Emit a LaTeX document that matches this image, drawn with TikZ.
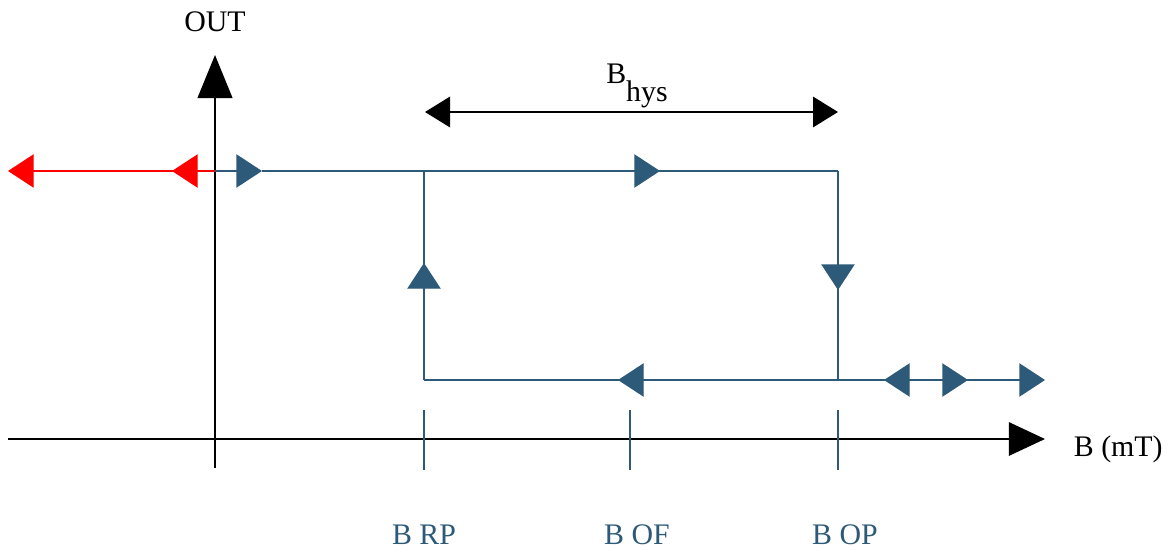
\documentclass[tikz,border=0pt]{standalone}
\usepackage{fontspec}
\setmainfont{Liberation Serif}
\usetikzlibrary{arrows.meta, positioning, calc}
\definecolor{flowblue}{RGB}{44,90,120}

\begin{document}
\begin{tikzpicture}[x=0.72pt, y=-0.72pt, >=stealth]
    % Styles
    \tikzstyle{axis} = [draw, black, line width=1.4pt]
    \tikzstyle{flow} = [draw, flowblue, line width=1pt]
    \tikzstyle{redflow} = [draw, red, line width=1pt]
    \tikzstyle{tip} = [-{Triangle[length=18.5pt, width=24pt]}]
    \tikzstyle{label} = [font=\fontsize{21.5}{25}\selectfont]
    \tikzstyle{tick} = [draw, flowblue, line width=1pt]

    \useasboundingbox (0,0) rectangle (1171,550);

    % Coordinates
    \coordinate (xstart) at (8,439);
    \coordinate (xend) at (1045,439);
    \coordinate (ybot) at (215,468);
    \coordinate (ytop) at (215,55);
    \coordinate (hiL) at (8,171);
    \coordinate (hiY) at (215,171);
    \coordinate (redtip) at (172,171);
    \coordinate (hiA) at (262,171);
    \coordinate (rpHi) at (424,171);
    \coordinate (hiB) at (660,171);
    \coordinate (opHi) at (838,171);
    \coordinate (downtip) at (838,290);
    \coordinate (opLo) at (838,380);
    \coordinate (lefttip) at (618,380);
    \coordinate (rpLo) at (424,380);
    \coordinate (uptip) at (424,263);
    \coordinate (loA) at (884,380);
    \coordinate (loB) at (968,380);
    \coordinate (loR) at (1045,380);
    \coordinate (hysL) at (425,112);
    \coordinate (hysR) at (838,112);

    % Nodes
    \node[label] (out) at (215,22) {OUT};
    \node[label, anchor=west] (bmt) at (1069,449) {B (mT)};
    \node[label] (hys) at (637,86) {B\raisebox{-1.3ex}{hys}};
    \node[label, text=flowblue] (brp) at (424,535) {B RP};
    \node[label, text=flowblue] (bof) at (637,535) {B OF};
    \node[label, text=flowblue] (bop) at (845,535) {B OP};

    % Axes
    \draw[axis, -{Triangle[length=26pt, width=24pt]}] (xstart) -- (xend);
    \draw[axis, -{Triangle[length=31pt, width=25pt]}] (ybot) -- (ytop);

    % Ticks
    \draw[tick] (424,410) -- (424,470);
    \draw[tick] (630,410) -- (630,470);
    \draw[tick] (838,410) -- (838,470);

    % Hysteresis width
    \draw[draw, black, line width=1pt, {Triangle[length=18pt, width=22pt]}-{Triangle[length=18pt, width=22pt]}] (hysL) -- (hysR);

    % Edges
    \draw[redflow, tip] (hiY) -- (hiL);
    \draw[redflow, tip] (hiY) -- (redtip);
    \draw[flow, tip] (hiY) -- (hiA);
    \draw[flow] (hiA) -- (opHi);
    \draw[flow, tip] (rpHi) -- (hiB);
    \draw[flow] (opHi) -- (opLo);
    \draw[flow, tip] (opHi) -- (downtip);
    \draw[flow] (opLo) -- (rpLo);
    \draw[flow, tip] (opLo) -- (lefttip);
    \draw[flow] (rpLo) -- (rpHi);
    \draw[flow, tip] (rpLo) -- (uptip);
    \draw[flow, tip] (loB) -- (loA);
    \draw[flow, tip] (opLo) -- (loB);
    \draw[flow, tip] (loB) -- (loR);

\end{tikzpicture}
\end{document}
